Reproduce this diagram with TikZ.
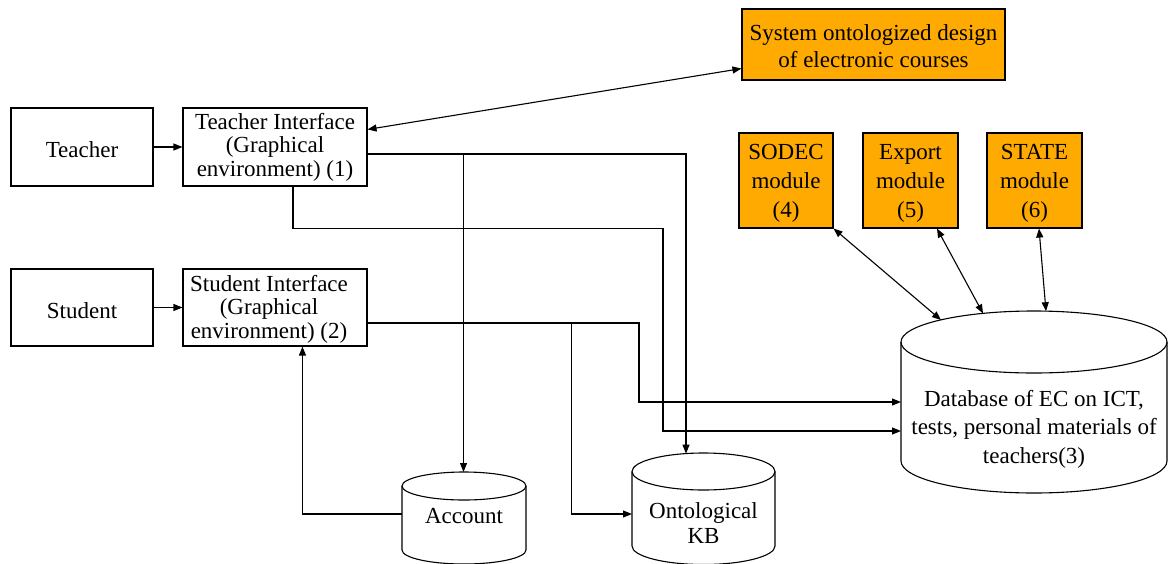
\documentclass[tikz,border=0pt]{standalone}
\usepackage{fontspec}
\setmainfont{Liberation Serif}
\usetikzlibrary{arrows.meta,calc}
\definecolor{modorange}{RGB}{255,170,0}
\begin{document}
\begin{tikzpicture}[x=1pt,y=-1pt, line width=1.1pt,
  box/.style={draw, rectangle, line width=1.1pt, align=center, inner sep=0pt, font=\fontsize{23}{23.5}\selectfont},
  mod/.style={box, fill=modorange},
  arr/.style={-{Triangle[length=9pt,width=7pt]}},
  darr/.style={{Triangle[length=9pt,width=7pt]}-{Triangle[length=9pt,width=7pt]}},
  txt/.style={align=center, inner sep=0pt}]
\useasboundingbox (0,0) rectangle (1168,563);
\clip (0,0) rectangle (1168,563);

% boxes
\node[box, minimum width=142pt, minimum height=78pt, text height=21pt, text depth=0pt] (teacher) at (82,147) {Teacher};
\node[box, minimum width=184pt, minimum height=78pt] (ti) at (275,147) {Teacher Interface\\(Graphical\\environment) (1)};
\node[box, minimum width=142pt, minimum height=77pt, text height=21pt, text depth=0pt] (student) at (82,307.5) {Student};
\node[box, minimum width=184pt, minimum height=77pt] (si) at (275,307.5) {};
\node[txt, font=\fontsize{23}{23.5}\selectfont] (sitext) at (269,309) {Student Interface\\(Graphical\\environment) (2)};

\node[mod, minimum width=263pt, minimum height=71pt, font=\fontsize{23}{27}\selectfont] (sys) at (873.5,44.5) {};
\node[txt, font=\fontsize{23}{27}\selectfont] (systext) at (873.5,46) {System ontologized design\\of electronic courses};
\node[mod, minimum width=94pt, minimum height=95pt] (sodec) at (786,180.5) {};
\node[mod, minimum width=95pt, minimum height=95pt] (export) at (910.5,180.5) {};
\node[mod, minimum width=95pt, minimum height=95pt] (state) at (1034.5,180.5) {};
\node[txt, font=\fontsize{23}{29}\selectfont] (sodectext) at (786,183.5) {SODEC\\module\\(4)};
\node[txt, font=\fontsize{23}{29}\selectfont] (exporttext) at (910.5,183.5) {Export\\module\\(5)};
\node[txt, font=\fontsize{23}{29}\selectfont] (statetext) at (1034.5,183.5) {STATE\\module\\(6)};

% cylinders
\draw (402,486) -- (402,550) arc[start angle=180,end angle=360,x radius=62pt,y radius=14pt] -- (526,486);
\draw (464,486) ellipse [x radius=62pt, y radius=14pt];
\node[txt, font=\fontsize{23}{25}\selectfont] (acc) at (464,516) {Account};

\draw (632,471.5) -- (632,546) arc[start angle=180,end angle=360,x radius=71.5pt,y radius=18.5pt] -- (775,471.5);
\draw (703.5,471.5) ellipse [x radius=71.5pt, y radius=18.5pt];
\node[txt, font=\fontsize{23}{25}\selectfont] (kb) at (703.5,523) {Ontological\\KB};

\draw (901,342) -- (901,461) arc[start angle=180,end angle=360,x radius=133pt,y radius=32pt] -- (1167,342);
\draw (1034,342) ellipse [x radius=133pt, y radius=31pt];
\node[txt, font=\fontsize{23}{28.5}\selectfont] (db) at (1034,429) {Database of EC on ICT,\\tests, personal materials of\\teachers(3)};

% connection points on cylinders
\coordinate (acctop) at (463.5,472);
\coordinate (accleft) at (402,514);
\coordinate (kbtop) at (686,453.6);
\coordinate (kbleft) at (632,514);
\coordinate (dbA) at (901,402);
\coordinate (dbB) at (901,431);
\coordinate (dbS) at (941,320);
\coordinate (dbE) at (983,313.4);
\coordinate (dbT) at (1046,311.2);

% connectors
\draw[arr] (teacher) -- (ti);
\draw[arr] (student) -- (si);
\draw[darr] ($(ti.north east)+(0,22)$) -- ($(sys.south west)+(0,-12)$);
\draw[arr] ($(ti.east)+(0,7)$) -| (acctop);
\draw[arr] ($(ti.east)+(0,7)$) -| (kbtop);
\draw[arr] ($(ti.south)+(18,0)$) -- ++(0,42) -| ($(dbB)+(-238,0)$) -- (dbB);
\draw[arr] ($(si.east)+(0,15.5)$) -| ($(dbA)+(-262,0)$) -- (dbA);
\draw[arr] ($(si.east)+(204,15.5)$) |- (kbleft);
\draw[arr] (accleft) -| ($(si.south west)+(120,0)$);
\draw[darr] (sodec.south east) -- (dbS);
\draw[darr] ($(export.south)+(26.5,0)$) -- (dbE);
\draw[darr] ($(state.south)+(4.5,0)$) -- (dbT);
\end{tikzpicture}
\end{document}
